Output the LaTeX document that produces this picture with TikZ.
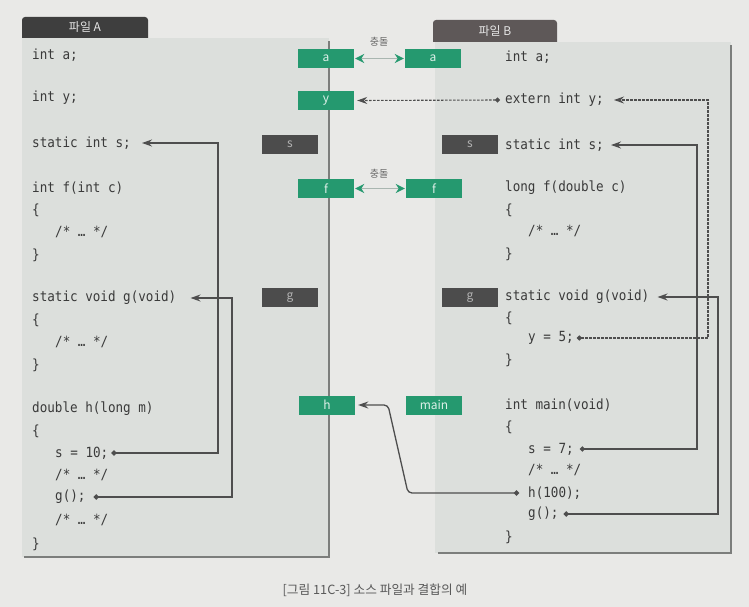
\documentclass[tikz,border=0pt]{standalone}
\usepackage{fontspec}
\setmainfont{Noto Sans CJK KR}
\newfontfamily\codefont[FakeStretch=0.9]{DejaVu Sans Mono}
\usetikzlibrary{arrows.meta}
\definecolor{bg}{HTML}{E9E9E7}
\definecolor{panel}{HTML}{DCDFDC}
\definecolor{edge}{HTML}{7C7E7C}
\definecolor{grn}{HTML}{25996F}
\definecolor{dgray}{HTML}{4C4C4C}
\definecolor{tabA}{HTML}{3E3E3E}
\definecolor{tabB}{HTML}{5E5858}
\definecolor{codec}{HTML}{3A3A3A}
\definecolor{linkc}{HTML}{4E4E4E}
\definecolor{collc}{HTML}{A9B6B0}
\begin{document}
\begin{tikzpicture}[x=1pt,y=-1pt,
  code/.style={anchor=west,inner sep=0pt,font=\codefont\fontsize{14}{15}\selectfont,text=codec},
  gbox/.style={fill=grn,minimum width=56pt,minimum height=19pt,inner sep=0pt,text=white!85!grn,font=\fontsize{12}{13}\selectfont},
  kbox/.style={gbox,fill=dgray,text=white!70!black},
  tabtext/.style={text=white!90!black,font=\fontsize{12}{13}\selectfont,inner sep=0pt},
  link/.style={draw=linkc,line width=1.3pt,{Circle[length=5pt]}-{Stealth[length=10pt,width=7pt]}},
  hlink/.style={link,rounded corners=4pt},
  dlink/.style={link,dash pattern=on 2.5pt off 1.5pt,line width=1.1pt},
  collide/.style={draw=collc,line width=1.8pt,{Stealth[length=9pt,width=9pt,fill=grn,color=grn]}-{Stealth[length=9pt,width=9pt,fill=grn,color=grn]}},
  klabel/.style={text=black!60,font=\fontsize{10}{11}\selectfont,inner sep=0pt},
  caption/.style={text=black!65,font=\fontsize{12.7}{14}\selectfont,inner sep=0pt}]
\useasboundingbox (0,0) rectangle (749,607);
\fill[bg] (0,0) rectangle (749,607);
% panels
\fill[panel] (22,38) rectangle (329,557);
\draw[edge,line width=1.6pt] (329,41) -- (329,557) -- (24,557);
\fill[panel] (435,42) rectangle (731,553);
\draw[edge,line width=1.6pt] (731,45) -- (731,553) -- (438,553);
% tabs
\fill[tabA] (22,38) [rounded corners=3pt] -- (22,17) -- (148,17) [sharp corners] -- (148,38) -- cycle;
\node[tabtext] (tA) at (85,27.5) {파일 A};
\fill[tabB] (433,42) [rounded corners=3pt] -- (433,20) -- (557,20) [sharp corners] -- (557,42) -- cycle;
\node[tabtext] (tB) at (495,31) {파일 B};
% symbol boxes
\node[gbox] (La) at (326,58.5) {a};
\node[gbox] (Ra) at (433,58.5) {a};
\node[gbox] (Ly) at (326,100.5) {y};
\node[kbox] (Ls) at (290,144) {s};
\node[kbox] (Rs) at (470,144) {s};
\node[gbox] (Lf) at (326,188.5) {f};
\node[gbox] (Rf) at (434,188.5) {f};
\node[kbox] (Lg) at (290,297.5) {g};
\node[kbox] (Rg) at (470,297.5) {g};
\node[gbox] (Lh) at (327,405) {h};
\node[gbox] (Rm) at (434,405) {main};
\node[klabel] (c1) at (379,42) {충돌};
\node[klabel] (c2) at (379,174) {충돌};
\draw[collide] ([xshift=1pt]La.east) -- ([xshift=-1pt]Ra.west);
\draw[collide] ([xshift=1pt]Lf.east) -- ([xshift=-1pt]Rf.west);
% file A code
\node[code] (Aa) at (32,55) {int a;};
\node[code] (Ay) at (32,98) {int y;};
\node[code] (As) at (32,143) {static int s;};
\node[code] (Af) at (32,188) {int f(int c)};
\node[code] (Af1) at (32,210) {\{};
\node[code] (Af2) at (55,232) {/* … */};
\node[code] (Af3) at (32,255) {\}};
\node[code] (Ag) at (32,298) {static void g(void)};
\node[code] (Ag1) at (32,320) {\{};
\node[code] (Ag2) at (55,342) {/* … */};
\node[code] (Ag3) at (32,365) {\}};
\node[code] (Ah) at (32,409) {double h(long m)};
\node[code] (Ah1) at (32,431) {\{};
\node[code] (Ahs) at (55,453) {s = 10;};
\node[code] (Ah2) at (55,475) {/* … */};
\node[code] (Ahg) at (55,497) {g();};
\node[code] (Ah3) at (55,520) {/* … */};
\node[code] (Ah4) at (32,544) {\}};
% file B code
\node[code] (Ba) at (505,57) {int a;};
\node[code] (By) at (505,100) {extern int y;};
\node[code] (Bs) at (505,145) {static int s;};
\node[code] (Bf) at (505,188) {long f(double c)};
\node[code] (Bf1) at (505,210) {\{};
\node[code] (Bf2) at (528,231) {/* … */};
\node[code] (Bf3) at (505,254) {\}};
\node[code] (Bg) at (505,297) {static void g(void)};
\node[code] (Bg1) at (505,318) {\{};
\node[code] (Bgy) at (528,338) {y = 5;};
\node[code] (Bg3) at (505,360) {\}};
\node[code] (Bm) at (505,405) {int main(void)};
\node[code] (Bm1) at (505,427) {\{};
\node[code] (Bms) at (528,449) {s = 7;};
\node[code] (Bm2) at (528,470) {/* … */};
\node[code] (Bmh) at (528,493) {h(100);};
\node[code] (Bmg) at (528,514) {g();};
\node[code] (Bm3) at (505,537) {\}};
% trunks
\coordinate (tA1) at (218,300);
\coordinate (tA2) at (232,400);
\coordinate (tB1) at (697,300);
\coordinate (tB2) at (718,400);
\coordinate (tBy) at (708,220);
\coordinate (hb1) at (408,493);
\coordinate (hb2) at (388,405);
% connectors
\draw[link] ([xshift=3pt]Ahs.east) -| (tA1) |- ([xshift=11pt]As.east);
\draw[link] ([xshift=8pt]Ahg.east) -| (tA2) |- ([xshift=14pt]Ag.east);
\draw[link] ([xshift=6pt]Bms.east) -| (tB1) |- ([xshift=7pt]Bs.east);
\draw[link] ([xshift=5pt]Bmg.east) -| (tB2) |- ([xshift=8pt]Bg.east);
\draw[dlink] ([xshift=3pt]Bgy.east) -| (tBy) |- ([xshift=10pt]By.east);
\draw[dlink] ([xshift=-5pt]By.west) -- ([xshift=3pt]Ly.east);
\draw[hlink] ([xshift=-9pt]Bmh.west) -- (hb1) -- (hb2) -- ([xshift=3pt]Lh.east);
% caption
\node[caption] (cap) at (375,590) {[그림 11C-3] 소스 파일과 결합의 예};
\end{tikzpicture}
\end{document}
